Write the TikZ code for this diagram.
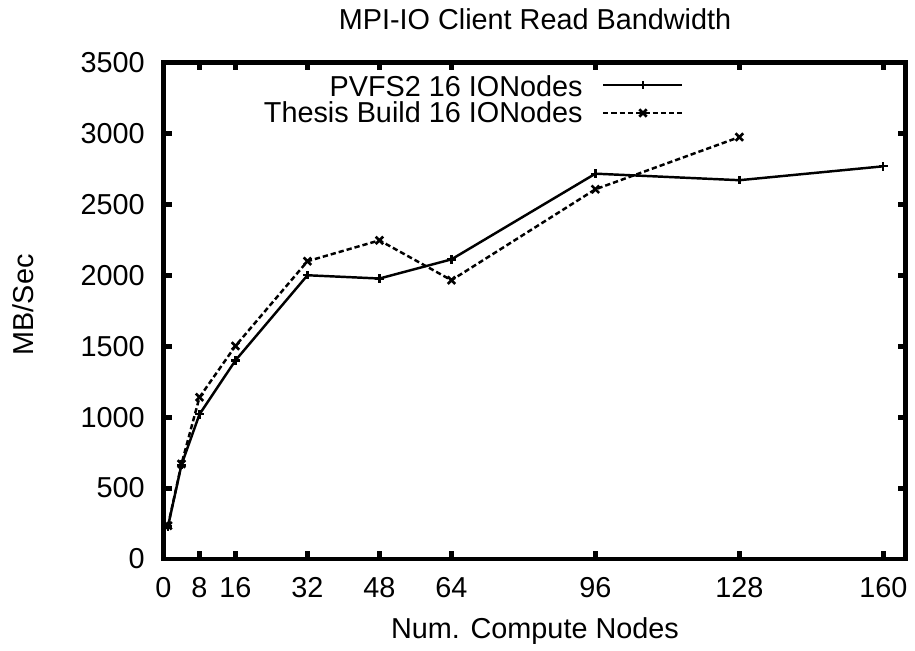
\documentclass[tikz,border=0pt]{standalone}
\usepackage{fontspec}
\setmainfont{Liberation Sans}
\usetikzlibrary{plotmarks}

\begin{document}
\begin{tikzpicture}[
    x=0.02cm, y=0.02cm,
    every node/.style={font=\fontsize{16.4}{18}\selectfont, inner sep=0pt},
    frame/.style={line width=2.8pt},
    ticks/.style={line width=2.8pt},
    pvfs/.style={line width=1.4pt, mark=+, mark size=2.4pt,
        mark options={solid, line width=1.3pt}},
    thesis/.style={line width=1.4pt, dash pattern=on 3pt off 1.7pt,
        mark=x, mark size=3pt, mark options={solid, line width=1.5pt}}
]

    \useasboundingbox (0,0) rectangle (915,650);

    % Titols
    \node (title) at (535,631) {MPI-IO Client Read Bandwidth};
    \node (xlabel) at (535,19) {Num. Compute Nodes};
    \node[rotate=90] (ylabel) at (23,345) {MB/Sec};

    \begin{scope}[shift={(163.5,91)}, x=0.09cm, y=0.00284cm]

    % Marques de l'eix y
    \foreach \v in {0,500,...,3500} {
        \draw[ticks] (0,\v) -- ++(0.16cm,0);
        \draw[ticks] (165,\v) -- ++(-0.16cm,0);
        \node[anchor=east] (ylab\v) at ([xshift=-0.37cm]0,\v) {\v};
    }

    % Marques de l'eix x
    \foreach \u in {0,8,16,32,48,64,96,128,160} {
        \draw[ticks] (\u,0) -- ++(0,0.16cm);
        \draw[ticks] (\u,3500) -- ++(0,-0.16cm);
        \node (xlab\u) at ([yshift=-0.58cm]\u,0) {\u};
    }

    % Dades
    \draw[pvfs] plot coordinates {(1,230) (4,665) (8,1020) (16,1400)
        (32,2000) (48,1977) (64,2112) (96,2716) (128,2670) (160,2768)};
    \draw[thesis] plot coordinates {(1,235) (4,670) (8,1140) (16,1502)
        (32,2099) (48,2246) (64,1965) (96,2606) (128,2974)};

    % Marc
    \draw[frame] (0,0) rectangle (165,3500);

    \end{scope}

    % Llegenda
    \node[anchor=east] (leg1) at (583,564) {PVFS2 16 IONodes};
    \node[anchor=east] (leg2) at (583,538) {Thesis Build 16 IONodes};
    \draw[pvfs, mark indices={2}] plot coordinates {(603,565) (643,565) (682,565)};
    \draw[thesis, mark indices={2}] plot coordinates {(603,537) (643,537) (682,537)};

\end{tikzpicture}
\end{document}
